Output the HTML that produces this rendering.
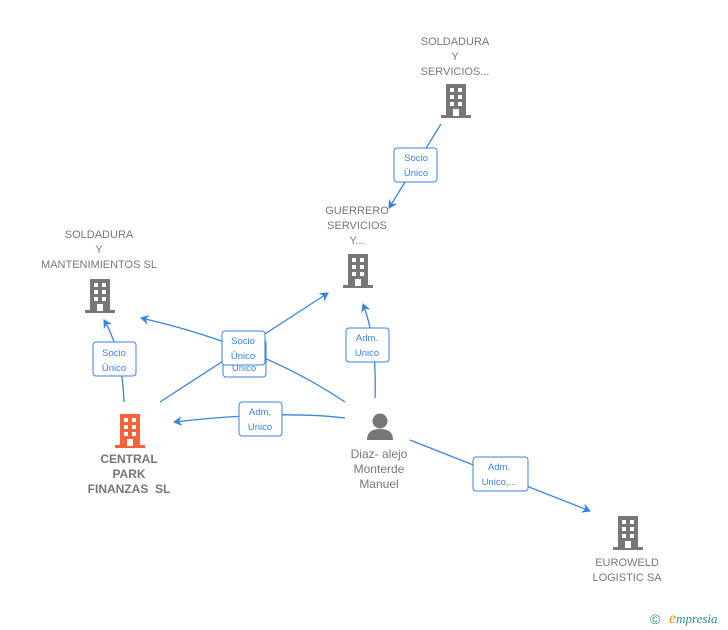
<!DOCTYPE html>
<html><head><meta charset="utf-8"><style>
body{margin:0;background:#fff;}
svg{display:block;font-family:"Liberation Sans",sans-serif;}
.t{fill:#777;font-size:11px;text-anchor:middle;}
.tb{fill:#777;font-size:12px;font-weight:bold;text-anchor:middle;}
.l{stroke:#3b82e0;stroke-width:1.3;fill:none;}
.bx{fill:#fff;stroke:#3b82e0;stroke-width:1;}
.bt{fill:#3b82e0;font-size:9.5px;text-anchor:middle;}
</style></head><body>
<svg width="728" height="630" viewBox="0 0 728 630">
<defs>
<marker id="a" markerWidth="10" markerHeight="10" refX="8" refY="5" orient="auto" markerUnits="userSpaceOnUse"><path d="M0,0 L9,5 L0,10 L3,5 Z" fill="#3b82e0"/></marker>
<g id="b">
<rect x="-10" y="-17" width="20" height="32" />
<rect x="-15" y="14" width="30" height="3"/>
<g fill="#fff"><rect x="-6" y="-13" width="4" height="4"/><rect x="2" y="-13" width="4" height="4"/><rect x="-6" y="-6" width="4" height="4"/><rect x="2" y="-6" width="4" height="4"/><rect x="-6" y="1" width="4" height="4"/><rect x="2" y="1" width="4" height="4"/><rect x="-3" y="8" width="6" height="7"/></g>
</g>
</defs>
<path class="l" d="M441,124 L389,208" marker-end="url(#a)"/>
<path class="l" d="M375,398 Q377,340 363,304" marker-end="url(#a)"/>
<path class="l" d="M160,402 L328,293" marker-end="url(#a)"/>
<path class="l" d="M345,402 Q260,345 141,318" marker-end="url(#a)"/>
<path class="l" d="M345,418 Q280,410 174,422" marker-end="url(#a)"/>
<path class="l" d="M124,402 Q122,350 104,320" marker-end="url(#a)"/>
<path class="l" d="M410,440 L590,511" marker-end="url(#a)"/>
<rect class="bx" x="394" y="148" width="43" height="34" rx="3"/><text class="bt" x="416" y="161">Socio</text><text class="bt" x="416" y="176">Único</text>
<rect class="bx" x="346" y="328" width="43" height="34" rx="3"/><text class="bt" x="367" y="341">Adm.</text><text class="bt" x="367" y="356">Unico</text>
<rect class="bx" x="223" y="340" width="43" height="37" rx="3"/><text class="bt" x="244" y="371">Unico</text>
<rect class="bx" x="222" y="331" width="43" height="34" rx="3"/><text class="bt" x="243" y="344">Socio</text><text class="bt" x="243" y="359">Único</text>
<rect class="bx" x="239" y="402" width="43" height="34" rx="3"/><text class="bt" x="260" y="415">Adm.</text><text class="bt" x="260" y="430">Unico</text>
<rect class="bx" x="93" y="342" width="43" height="34" rx="3"/><text class="bt" x="114" y="356">Socio</text><text class="bt" x="114" y="371">Único</text>
<rect class="bx" x="473" y="457" width="55" height="34" rx="3"/><text class="bt" x="499" y="470">Adm.</text><text class="bt" x="499" y="485">Unico,...</text>
<use href="#b" x="456" y="101" fill="#777"/>
<use href="#b" x="358" y="271" fill="#777"/>
<use href="#b" x="100" y="296" fill="#777"/>
<use href="#b" x="130" y="431" fill="#f4643a"/>
<use href="#b" x="628" y="533" fill="#777"/>
<g fill="#777"><circle cx="380" cy="421" r="7.5"/><path d="M367,440 Q367,429 380,429 Q393,429 393,440 Z"/></g>
<text class="t" x="455" y="45">SOLDADURA</text><text class="t" x="455" y="60">Y</text><text class="t" x="455" y="75">SERVICIOS...</text>
<text class="t" x="357" y="214">GUERRERO</text><text class="t" x="357" y="229">SERVICIOS</text><text class="t" x="357" y="244">Y...</text>
<text class="t" x="99" y="238">SOLDADURA</text><text class="t" x="99" y="253">Y</text><text class="t" x="99" y="268">MANTENIMIENTOS SL</text>
<text class="tb" x="129" y="463">CENTRAL</text><text class="tb" x="129" y="478">PARK</text><text class="tb" x="129" y="493">FINANZAS&#160; SL</text>
<text class="t" x="379" y="458" style="font-size:12px">Diaz- alejo</text><text class="t" x="379" y="473" style="font-size:12px">Monterde</text><text class="t" x="379" y="488" style="font-size:12px">Manuel</text>
<text class="t" x="627" y="566">EUROWELD</text><text class="t" x="627" y="581">LOGISTIC SA</text>
<text x="650" y="624" style="font-size:14px;fill:#2a8a9a">©</text>
<text x="669" y="623" style="font-size:13px;font-style:italic;fill:#2a8a9a;font-family:'Liberation Serif',serif"><tspan fill="#f08a1c" font-size="16">e</tspan>mpresia</text>
</svg>
</body></html>
